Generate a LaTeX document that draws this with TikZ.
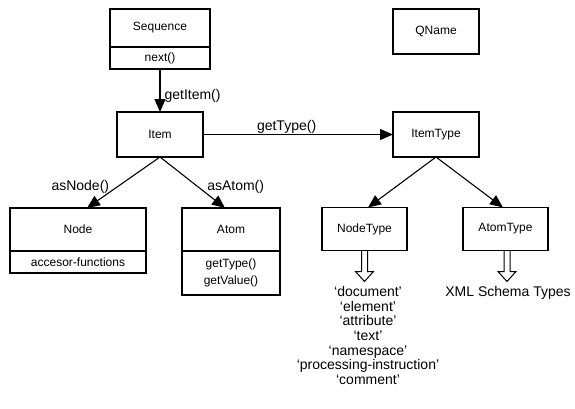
\documentclass[tikz,border=0pt]{standalone}
\usepackage{fontspec}
\setmainfont{Liberation Sans}
\usepackage{tikz}
\usetikzlibrary{arrows.meta}
\newcommand{\boxfont}{\fontsize{12}{14}\selectfont}
\newcommand{\lblfont}{\fontsize{14}{14.7}\selectfont}
\tikzset{
    umlbox/.style = {
        draw,
        line width = 1.3pt,
        inner sep  = 0pt,
        outer sep  = 0pt,
        font       = \boxfont,
        align      = center,
    },
    link/.style = {
        line width = 1.1pt,
        -{Triangle[length=13pt, width=11pt]},
    },
    hollow/.style = {
        line width = 1pt,
        line join  = miter,
    },
    lbl/.style = {
        font      = \lblfont,
        inner sep = 1pt,
        align     = center,
    },
}

\begin{document}
\begin{tikzpicture}[x=1pt, y=-1pt]
        \useasboundingbox (0,0) rectangle (575,408);

        \node at (160, 28) (seq) [umlbox, minimum width=100, minimum height=38] {Sequence};
        \node (seqops) [umlbox, anchor=north, minimum width=100, minimum height=22] at (seq.south) {next()};

        \node at (160, 134.5) (item) [umlbox, minimum width=86, minimum height=45] {Item};
        \node at (436, 31.5) (qname) [umlbox, minimum width=86, minimum height=45] {QName};
        \node at (436, 134.5) (itype) [umlbox, minimum width=86, minimum height=45] {ItemType};

        \node at (78, 229.5) (node) [umlbox, minimum width=136, minimum height=43] {Node};
        \node (nodeops) [umlbox, anchor=north, minimum width=136, minimum height=22] at (node.south) {accesor-functions};

        \node at (231, 229.5) (atom) [umlbox, minimum width=98, minimum height=43] {Atom};
        \node (atomops) [umlbox, anchor=north, minimum width=98, minimum height=44, font={\fontsize{12}{16.5}\selectfont}] at (atom.south) {getType()\\getValue()};

        \node at (364.5, 229) (ntype) [umlbox, minimum width=85, minimum height=43] {NodeType};
        \node at (505.5, 229) (atype) [umlbox, minimum width=85, minimum height=43] {AtomType};

        \draw [link] (seqops) -- (item) node [lbl, pos=0.62, anchor=west, xshift=3pt] {getItem()};
        \draw [link] (item) -- (itype) node [lbl, pos=0.44, above] {getType()};
        \draw [link] (item.south) -- ([xshift=9pt]node.north) node [lbl, pos=0.58, anchor=east, xshift=-7pt] {asNode()};
        \draw [link] (item.south) -- ([xshift=-6pt]atom.north) node [lbl, pos=0.58, anchor=west, xshift=8pt] {asAtom()};
        \draw [link] (itype.south) -- ([xshift=3.5pt]ntype.north);
        \draw [link] (itype.south) -- ([xshift=-2.5pt]atype.north);

        \node (ntvals) [lbl, anchor=north, xshift=3.5pt] at (364.5, 285) {‘document’\\‘element’\\‘attribute’\\‘text’\\‘namespace’\\‘processing-instruction’\\‘comment’};
        \node (xsd) [lbl] at (508, 293) {XML Schema Types};

        \draw [hollow] (ntype.south) ++(-3,0) -- ++(0,21) -- ++(-6,0) -- ++(9,10) -- ++(9,-10) -- ++(-6,0) -- ++(0,-21);
        \draw [hollow] (atype.south) ++(-1.5,0) -- ++(0,21) -- ++(-6,0) -- ++(9,10) -- ++(9,-10) -- ++(-6,0) -- ++(0,-21);

    \end{tikzpicture}
\end{document}
